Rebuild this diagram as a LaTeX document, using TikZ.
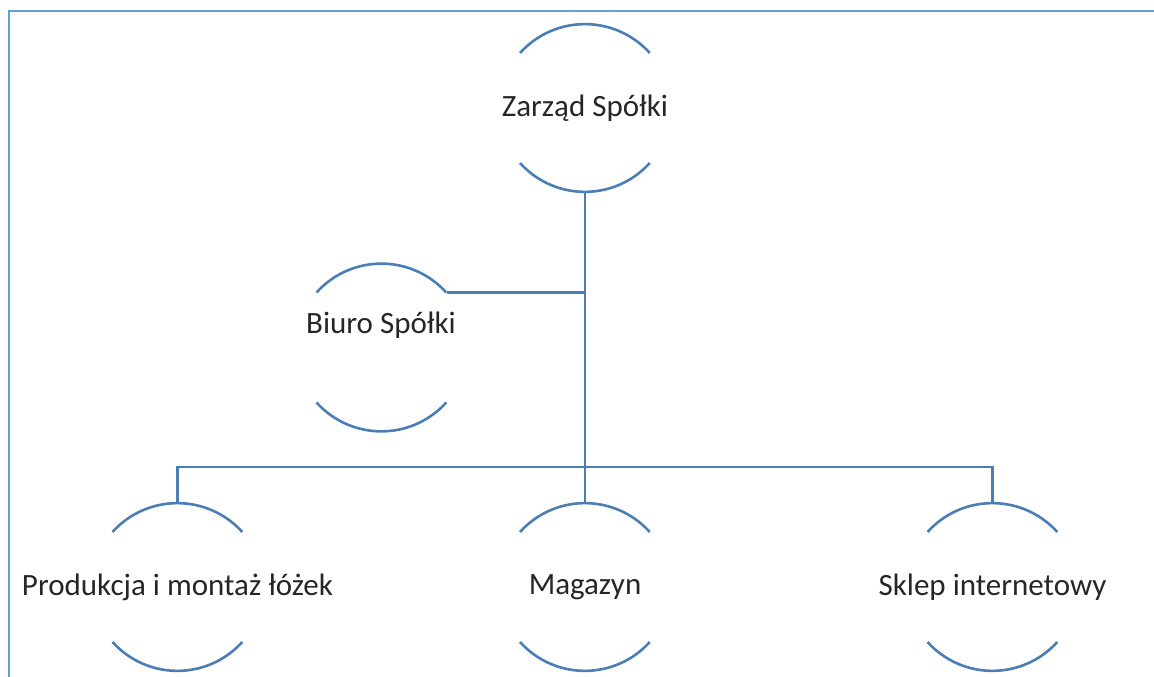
\documentclass[tikz,border=0pt]{standalone}
\usepackage{fontspec}
\setmainfont{Carlito}
\usepackage{tikz}
\usepackage{xcolor}
\definecolor{linkblue}{RGB}{74, 126, 180}
\definecolor{frameblue}{RGB}{100, 160, 215}

\newcommand{\ovalarcs}[1]{%
  \draw[arcline] (#1) ++(-65,55) arc[start angle=138, end angle=42, radius=87.3pt];
  \draw[arcline] (#1) ++(-65,-55) arc[start angle=222, end angle=318, radius=87.3pt];}

\begin{document}
\begin{tikzpicture}[x=1pt, y=1pt,
    unit/.style={minimum width=130pt, minimum height=170pt, inner sep=0pt,
      font=\fontsize{31}{37}\selectfont, text=black!85},
    arcline/.style={draw=linkblue, line width=2.6pt},
    link/.style={draw=linkblue, line width=2.6pt}]
    \useasboundingbox (0,0) rectangle (1154,677);
    \draw[frameblue, line width=2.6pt] (9,0) -- (9,666) -- (1154,666);

    \node[unit] (zarzad) at (585,569) {Zarząd Spółki};
    \coordinate (biuroc) at (381.5,329.5);
    \node[font=\fontsize{31}{37}\selectfont, text=black!85] (biuro) at (381,352) {Biuro Spółki};
    \node[unit] (prod) at (177.5,90) {Produkcja i montaż łóżek};
    \node[unit] (magazyn) at (585,90) {Magazyn};
    \node[unit] (sklep) at (992.5,90) {Sklep internetowy};

    \ovalarcs{zarzad.center}
    \ovalarcs{biuroc}
    \ovalarcs{prod.center}
    \ovalarcs{magazyn.center}
    \ovalarcs{sklep.center}

    \coordinate (bus) at (585,210);
    \coordinate (biurojoin) at ([shift={(65,55)}]biuroc);
    \draw[link] (zarzad.south) -- (bus);
    \draw[link] (biurojoin) -- (biurojoin -| zarzad.south);
    \draw[link] (prod.north) |- (bus) -| (sklep.north);
    \draw[link] (bus) -- (magazyn.north);
\end{tikzpicture}
\end{document}
